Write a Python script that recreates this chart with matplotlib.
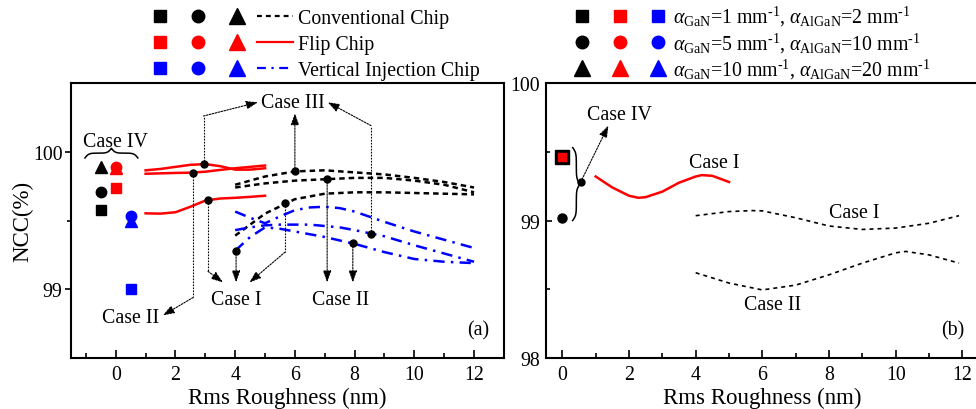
import matplotlib
matplotlib.use("Agg")
import numpy as np
import matplotlib.pyplot as plt
from matplotlib.lines import Line2D
from matplotlib.legend_handler import HandlerTuple
from matplotlib.ticker import FixedLocator, MultipleLocator

plt.rcParams["font.family"] = ["Liberation Serif", "DejaVu Serif"]
plt.rcParams["mathtext.fontset"] = "custom"
plt.rcParams["mathtext.rm"] = "Liberation Serif"
plt.rcParams["mathtext.it"] = "Liberation Serif:italic"

RED = "#ff0000"
BLUE = "#0000ff"

# ---- panel (a) data ----
x_flip = [1, 1.5, 2, 2.5, 3, 3.5, 4, 4.5, 5]
flip_1 = [99.865, 99.875, 99.89, 99.905, 99.91, 99.895, 99.87, 99.87, 99.88]
flip_2 = [99.84, 99.843, 99.846, 99.848, 99.855, 99.868, 99.88, 99.89, 99.90]
flip_3 = [99.552, 99.55, 99.56, 99.60, 99.645, 99.66, 99.665, 99.672, 99.68]

x_conv = [4, 5, 6, 7, 8, 9, 10, 11, 12]
conv_1 = [99.76, 99.82, 99.857, 99.865, 99.85, 99.835, 99.81, 99.78, 99.74]
conv_2 = [99.74, 99.77, 99.79, 99.80, 99.81, 99.81, 99.79, 99.76, 99.705]
conv_3 = [99.39, 99.55, 99.655, 99.695, 99.705, 99.705, 99.70, 99.695, 99.69]

x_vert = [4, 4.5, 5, 5.5, 6, 6.5, 7, 7.5, 8, 9, 10, 11, 12]
vert_1 = [99.565, 99.52, 99.48, 99.53, 99.575, 99.595, 99.60, 99.59, 99.565, 99.49, 99.42, 99.36, 99.30]
vert_2 = [99.43, 99.45, 99.465, 99.47, 99.47, 99.47, 99.46, 99.45, 99.43, 99.385, 99.32, 99.26, 99.20]
vert_3 = [99.28, 99.38, 99.45, 99.44, 99.42, 99.40, 99.38, 99.355, 99.33, 99.27, 99.22, 99.20, 99.19]

# Case IV (zero roughness) points: square / circle / triangle
x_case4 = {"conv": -0.5, "flip": 0.0, "vert": 0.5}
case4_sq = {"conv": 99.58, "flip": 99.74, "vert": 99.00}
case4_ci = {"conv": 99.71, "flip": 99.89, "vert": 99.53}
case4_tr = {"conv": 99.89, "flip": 99.885, "vert": 99.50}

# leader lines (a): list of (x, y) vertices, arrow at the last one
leaders_a = [
    [(2.94, 99.91), (2.94, 100.26), (4.76, 100.36)],
    [(6.0, 99.857), (6.0, 100.28)],
    [(8.55, 99.405), (8.55, 100.19), (7.1, 100.36)],
    [(3.09, 99.65), (3.09, 99.13), (3.59, 99.05)],
    [(4.03, 99.28), (4.03, 99.05)],
    [(5.67, 99.625), (5.67, 99.27), (4.48, 99.05)],
    [(7.08, 99.804), (7.08, 99.05)],
    [(7.94, 99.333), (7.94, 99.05)],
    [(2.59, 99.845), (2.59, 98.94), (1.58, 98.81)],
]
labels_a = [("Case IV", -0.02, 100.04), ("Case III", 5.93, 100.327),
            ("Case I", 4.03, 98.891), ("Case II", 7.54, 98.891),
            ("Case II", 0.49, 98.763), ("(a)", 12.13, 98.67)]

# ---- panel (b) data ----
x_flip_b = [1, 1.5, 2, 2.28, 2.5, 3, 3.5, 4, 4.18, 4.5, 5]
flip_b = [99.32, 99.24, 99.18, 99.165, 99.17, 99.21, 99.275, 99.32, 99.33, 99.325, 99.28]
x_conv_b = [4, 5, 5.7, 6, 7, 8, 9, 10, 11, 11.9]
conv_b1 = [99.035, 99.065, 99.072, 99.07, 99.02, 98.96, 98.935, 98.945, 98.98, 99.035]
x_conv_b2 = [4, 5, 6, 7, 8, 9, 10, 10.3, 11, 11.9]
conv_b2 = [98.62, 98.545, 98.495, 98.53, 98.605, 98.69, 98.765, 98.775, 98.75, 98.69]
case4_b_sq = 99.465
case4_b_ci = 99.02
leaders_b = [[(0.55, 99.28), (1.38, 99.69)]]
labels_b = [("Case IV", 1.70, 99.737), ("Case I", 4.55, 99.392),
            ("Case I", 8.75, 99.027), ("Case II", 6.30, 98.355), ("(b)", 11.71, 98.17)]

FS = 14.3
DOT = (0, (1.5, 1.2))


def brace(ax, a, b, base, h, vertical=False):
    half = np.linspace(0, 1, 60)
    beta = 14.0
    yh = 1 / (1 + np.exp(-beta * half)) + 1 / (1 + np.exp(-beta * (half - 1))) - 0.5
    t = np.concatenate([half * 0.5, 0.5 + half * 0.5])
    v = np.concatenate([yh, yh[::-1]])
    along = a + t * (b - a)
    across = base + h * v
    if vertical:
        ax.plot(across, along, color="k", lw=1.1)
    else:
        ax.plot(along, across, color="k", lw=1.1)


def leader(ax, path):
    xs, ys = zip(*path)
    if len(path) > 2:
        ax.plot(xs[:-1], ys[:-1], color="k", lw=0.8, ls=DOT)
    ax.annotate("", xy=path[-1], xytext=path[-2],
                arrowprops=dict(arrowstyle="-|>,head_length=0.7,head_width=0.25",
                                color="k", lw=0.8, ls=DOT, mutation_scale=10,
                                shrinkA=0, shrinkB=0))
    ax.plot(xs[0], ys[0], "o", color="k", ms=5, zorder=6)


def style_axis(ax, yout):
    for sp in ax.spines.values():
        sp.set_linewidth(1.5)
    ax.xaxis.set_major_locator(MultipleLocator(2))
    ax.xaxis.set_minor_locator(MultipleLocator(1))
    ax.tick_params(axis="x", which="major", direction="in", length=6, width=1.2,
                   labelsize=FS, pad=5, top=False)
    ax.tick_params(axis="x", which="minor", direction="in", length=3.5, width=1.2, top=False)
    d = "out" if yout else "in"
    ax.tick_params(axis="y", which="major", direction=d, length=4.5, width=1.2,
                   labelsize=FS, pad=1.5 if yout else 4, right=False)
    ax.tick_params(axis="y", which="minor", direction=d, length=3, width=1.2, right=False)
    ax.set_xlabel("Rms Roughness (nm)", fontsize=16.5, labelpad=2)


fig = plt.figure(figsize=(9.76, 4.10), dpi=100)
ax1 = fig.add_axes([0.0727, 0.1244, 0.4436, 0.6707])
ax2 = fig.add_axes([0.5591, 0.1244, 0.4440, 0.6707])

# ---- (a) ----
conv_ls = (0, (2.2, 1.6))
vert_ls = (0, (4.5, 2.5, 1, 2.5))
for y in (flip_1, flip_2, flip_3):
    ax1.plot(x_flip, y, color=RED, lw=1.8)
for y in (conv_1, conv_2, conv_3):
    ax1.plot(x_conv, y, color="k", lw=1.8, ls=conv_ls)
for y in (vert_1, vert_2, vert_3):
    ax1.plot(x_vert, y, color=BLUE, lw=1.8, ls=vert_ls)

for key, c in (("conv", "k"), ("flip", RED), ("vert", BLUE)):
    xk = x_case4[key]
    ax1.plot(xk, case4_sq[key], "s", color=c, ms=6.5)
    ax1.plot(xk, case4_ci[key], "o", color=c, ms=7.5)
    ax1.plot(xk, case4_tr[key], "^", color=c, ms=8)

for p in leaders_a:
    leader(ax1, p)
brace(ax1, -1.03, 0.74, 99.955, 0.07)
for s, x, y in labels_a:
    ax1.text(x, y, s, fontsize=FS, ha="center", va="baseline")

ax1.set_xlim(-1.5, 13)
ax1.set_ylim(98.5, 100.5)
ax1.yaxis.set_major_locator(FixedLocator([99, 100]))
ax1.yaxis.set_minor_locator(FixedLocator([99.5]))
style_axis(ax1, True)
ax1.set_ylabel("NCC(%)", fontsize=16.5, labelpad=0)

# ---- (b) ----
ax2.plot(x_flip_b, flip_b, color=RED, lw=1.8)
ax2.plot(x_conv_b, conv_b1, color="k", lw=1.2, ls=(0, (2.4, 2.4)))
ax2.plot(x_conv_b2, conv_b2, color="k", lw=1.2, ls=(0, (2.4, 2.4)))
ax2.plot(0, case4_b_sq, "s", color="k", ms=9.6)
ax2.plot(0, case4_b_sq, "s", color=RED, ms=6.2)
ax2.plot(0, case4_b_ci, "o", color="k", ms=6.5)
for p in leaders_b:
    leader(ax2, p)
brace(ax2, 99.0, 99.53, 0.31, 0.22, vertical=True)
for s, x, y in labels_b:
    ax2.text(x, y, s, fontsize=FS, ha="center", va="baseline")

ax2.set_xlim(-0.5, 12.5)
ax2.set_ylim(98, 100)
ax2.yaxis.set_major_locator(MultipleLocator(1))
ax2.yaxis.set_minor_locator(MultipleLocator(0.5))
style_axis(ax2, False)

# ---- legends ----
def mk(m, c, ms):
    return Line2D([], [], ls="none", marker=m, color=c, ms=ms)


chip_handles = [
    (mk("s", "k", 8), mk("o", "k", 9), mk("^", "k", 11),
     Line2D([], [], color="k", lw=1.6, ls=(0, (2.2, 1.8)))),
    (mk("s", RED, 8), mk("o", RED, 9), mk("^", RED, 11),
     Line2D([], [], color=RED, lw=1.6)),
    (mk("s", BLUE, 8), mk("o", BLUE, 9), mk("^", BLUE, 11),
     Line2D([], [], color=BLUE, lw=1.6, ls=(0, (4, 2.5, 1, 2.5)))),
]
chip_labels = ["Conventional Chip", "Flip Chip", "Vertical Injection Chip"]
fig.legend(chip_handles, chip_labels, loc="upper left", bbox_to_anchor=(0.1455, 0.976),
           handler_map={tuple: HandlerTuple(ndivide=None, pad=0.12)},
           frameon=False, fontsize=FS, handlelength=7.6, handletextpad=0.27,
           borderpad=0, borderaxespad=0, labelspacing=0.35)

HY = "\u2010"
alpha_handles = [
    (mk("s", "k", 8), mk("s", RED, 8), mk("s", BLUE, 8)),
    (mk("o", "k", 9), mk("o", RED, 9), mk("o", BLUE, 9)),
    (mk("^", "k", 11), mk("^", RED, 11), mk("^", BLUE, 11)),
]
alpha_labels = [
    rf"$\alpha_{{\rm GaN}}$=1 mm$^{{{HY}1}}$, $\alpha_{{\rm AlGaN}}$=2 mm$^{{{HY}1}}$",
    rf"$\alpha_{{\rm GaN}}$=5 mm$^{{{HY}1}}$, $\alpha_{{\rm AlGaN}}$=10 mm$^{{{HY}1}}$",
    rf"$\alpha_{{\rm GaN}}$=10 mm$^{{{HY}1}}$, $\alpha_{{\rm AlGaN}}$=20 mm$^{{{HY}1}}$",
]
fig.legend(alpha_handles, alpha_labels, loc="upper left", bbox_to_anchor=(0.5827, 0.987),
           handler_map={tuple: HandlerTuple(ndivide=None, pad=0.62)},
           frameon=False, fontsize=FS, handlelength=5.16, handletextpad=0.1,
           borderpad=0, borderaxespad=0, labelspacing=0.1)

fig.savefig("out.png", dpi=100)
